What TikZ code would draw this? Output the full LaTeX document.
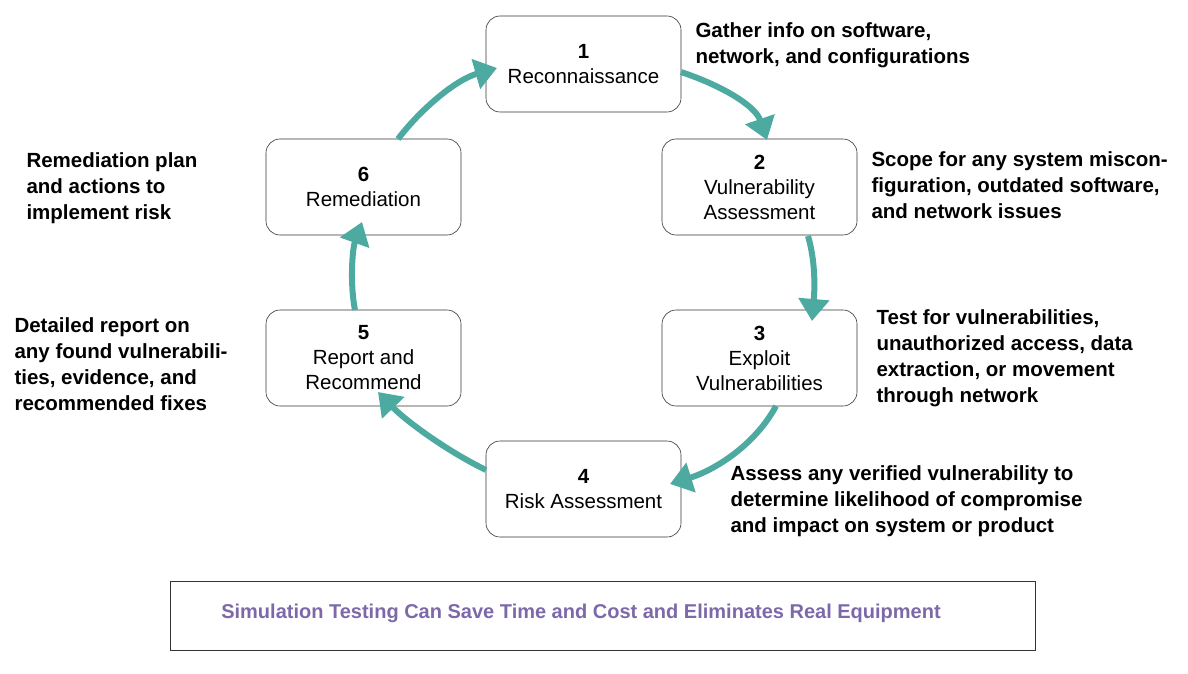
\documentclass[tikz,border=0pt]{standalone}
\usepackage{fontspec}
\setmainfont{Liberation Sans}
\usetikzlibrary{arrows.meta}
\definecolor{teal1}{RGB}{77,170,160}
\definecolor{purp}{RGB}{125,105,170}
\begin{document}
\begin{tikzpicture}[x=1pt,y=-1pt,
  stepbox/.style={draw=black!80,rounded corners=14pt,minimum width=195pt,minimum height=96pt,align=center,font=\fontsize{20.5}{25}\selectfont,line width=0.6pt},
  side/.style={align=left,anchor=north west,font=\fontsize{20.5}{26}\selectfont\bfseries},
  arr/.style={teal1,line width=6pt,-{Triangle[width=30pt,length=22pt]}}]
\useasboundingbox (0,0) rectangle (1188,674);
\node[stepbox] (s1) at (583.5,64) {\textbf{1}\\Reconnaissance};
\node[stepbox] (s2) at (759.5,187) {\textbf{2}\\Vulnerability\\Assessment};
\node[stepbox] (s3) at (759.5,358) {\textbf{3}\\Exploit\\Vulnerabilities};
\node[stepbox] (s4) at (583.5,489) {\textbf{4}\\Risk Assessment};
\node[stepbox] (s5) at (363.5,358) {\textbf{5}\\Report and\\Recommend};
\node[stepbox] (s6) at (363.5,187) {\textbf{6}\\Remediation};
\node[side] (t1) at (692,19) {Gather info on software,\\network, and configurations};
\node[side] (t2) at (868,148) {Scope for any system miscon-\\figuration, outdated software,\\and network issues};
\node[side] (t3) at (873,306) {Test for vulnerabilities,\\unauthorized access, data\\extraction, or movement\\through network};
\node[side] (t4) at (727,462) {Assess any verified vulnerability to\\determine likelihood of compromise\\and impact on system or product};
\node[side] (t5) at (11,314) {Detailed report on\\any found vulnerabili-\\ties, evidence, and\\recommended fixes};
\node[side] (t6) at (23,149) {Remediation plan\\and actions to\\implement risk};
\node[draw=black!80,line width=0.6pt,minimum width=865pt,minimum height=69pt] (bt) at (602.5,615.5) {};
\node[font=\fontsize{20}{24}\selectfont\bfseries,text=purp] (btt) at (581,613) {Simulation Testing Can Save Time and Cost and Eliminates Real Equipment};
\coordinate (a1s) at (681,72);
\coordinate (a2s) at (808,236);
\coordinate (a3s) at (776,406);
\coordinate (a4s) at (486,470);
\coordinate (a5s) at (355,310);
\coordinate (a6s) at (398,139);
\draw[arr] (a1s) .. controls (720,85) and (755,105) .. (767,140);
\draw[arr] (a2s) .. controls (815,260) and (815,285) .. (812,321);
\draw[arr] (a3s) .. controls (755,445) and (715,470) .. (670,484);
\draw[arr] (a4s) .. controls (445,450) and (405,420) .. (378,392);
\draw[arr] (a5s) .. controls (350,285) and (352,250) .. (362,222);
\draw[arr] (a6s) .. controls (420,110) and (455,80) .. (497,68);
\end{tikzpicture}
\end{document}
